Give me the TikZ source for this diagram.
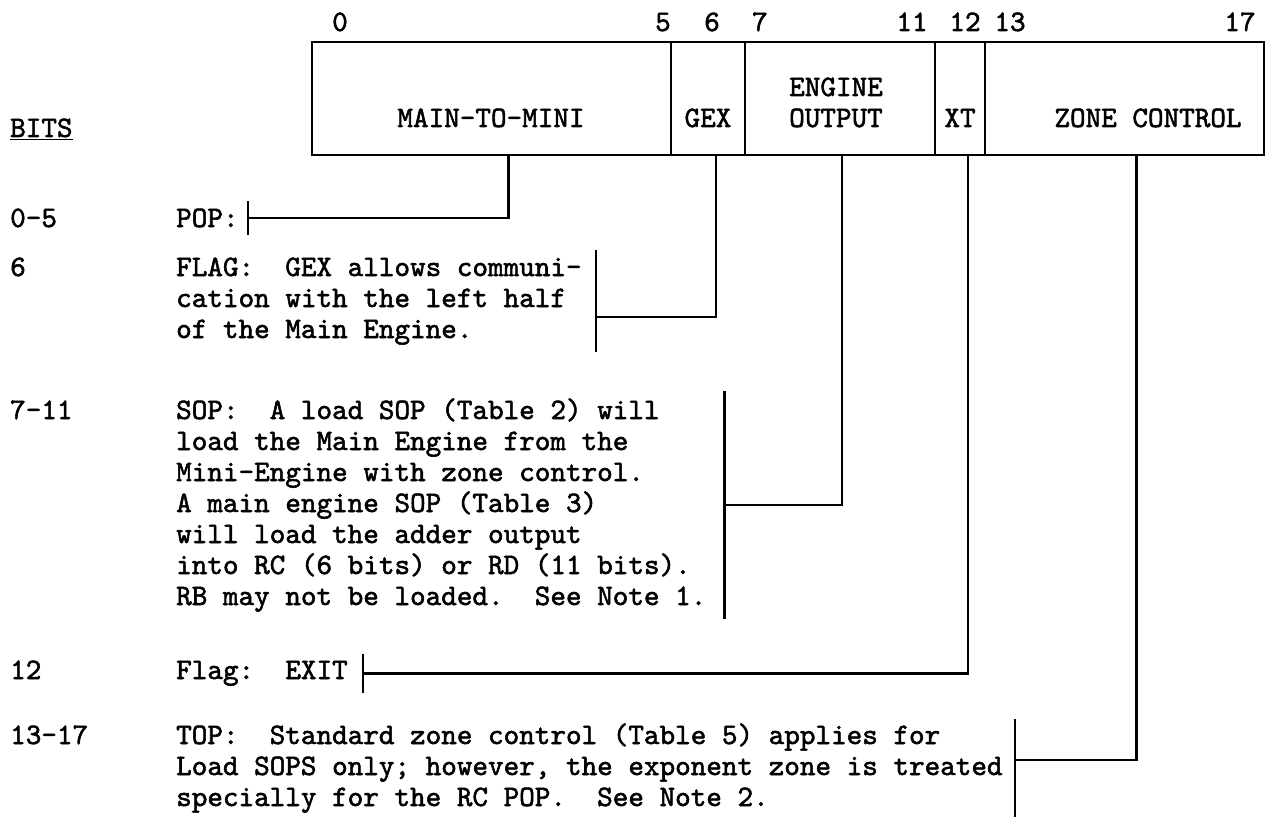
\documentclass[tikz,border=0pt]{standalone}
\usepackage{fontspec}
\setmonofont{lmmono10-regular.otf}[FakeBold=1.8]
\usetikzlibrary{positioning,calc}
\begin{document}
\frenchspacing
\begin{tikzpicture}[x=1pt,y=-1pt,
    font=\ttfamily\fontsize{29.7}{31}\selectfont,
    cell/.style={draw, line width=2.7pt, minimum height=113pt, inner sep=0pt},
    bitno/.style={anchor=base, inner sep=0pt},
    fieldlbl/.style={anchor=base, inner sep=0pt, align=center},
    rowno/.style={anchor=base west, inner sep=0pt},
    desc/.style={anchor=base west, align=left, inner xsep=0pt, inner ysep=7pt},
    lead/.style={line width=2.4pt}
  ]
  \useasboundingbox (0,0) rectangle (1272,824);

  % register fields
  \node[cell, minimum width=359pt] (mtm) at (491.5,98.5) {};
  \node[cell, minimum width=74pt] (gex) at (708,98.5) {};
  \node[cell, minimum width=190pt] (eng) at (840,98.5) {};
  \node[cell, minimum width=50pt] (xt) at (960,98.5) {};
  \node[cell, minimum width=279pt] (zone) at (1124.5,98.5) {};

  \node[fieldlbl] (mtmlbl) at (491,127) {MAIN-TO-MINI};
  \node[fieldlbl] (gexlbl) at (708,127) {GEX};
  \node[fieldlbl] (englbl) at (836,127) {ENGINE\\OUTPUT};
  \node[fieldlbl] (xtlbl) at (960,127) {XT};
  \node[fieldlbl] (zonelbl) at (1148,127) {ZONE CONTROL};

  % bit numbers
  \foreach \x/\n in {340/0, 663/5, 712/6, 760/7, 912/11, 965/12, 1010/13, 1240/17}
    \node[bitno] (b\n) at (\x,31) {\n};

  % left column
  \node[rowno] (hdr) at (10,137) {\underline{BITS}};
  \node[rowno] (r05) at (10,227) {0-5};
  \node[rowno] (r6) at (10,276) {6};
  \node[rowno] (r711) at (10,419) {7-11};
  \node[rowno] (r12) at (10,679) {12};
  \node[rowno] (r1317) at (10,744) {13-17};

  % descriptions (base = last line)
  \node[desc] (pop) at (176,227) {POP:};
  \node[desc] (flag) at (176,338) {FLAG:\ \ GEX allows communi-\\cation with the left half\\of the Main Engine.};
  \node[desc] (sop) at (176,605) {SOP:\ \ A load SOP (Table 2) will\\load the Main Engine from the\\Mini-Engine with zone control.\\A main engine SOP (Table 3)\\will load the adder output\\into RC (6 bits) or RD (11 bits).\\RB may not be loaded.\ \ See Note 1.};
  \node[desc] (exit) at (176,679) {Flag:\ \ EXIT};
  \node[desc, inner ysep=4pt] (top) at (176,806) {TOP:\ \ Standard zone control (Table 5) applies for\\Load SOPS only; however, the exponent zone is treated\\specially for the RC POP.\ \ See Note 2.};

  % bars beside the descriptions
  \foreach \t/\g in {pop/9, flag/14, sop/18, exit/15, top/12}
    \draw[lead] ($(\t.north east)+(\g,0)$) -- ($(\t.south east)+(\g,0)$);

  % leaders from the fields
  \draw[lead] ($(mtm.south)+(17,0)$) |- ($(pop.east)+(9,0)$);
  \draw[lead] ($(gex.south)+(8,0)$) |- ($(flag.east)+(14,16)$);
  \draw[lead] ($(eng.south)+(2,0)$) |- ($(sop.east)+(18,0)$);
  \draw[lead] ($(xt.south)+(8,0)$) |- ($(exit.east)+(15,0)$);
  \draw[lead] ($(zone.south)+(12,0)$) |- ($(top.east)+(12,-8)$);
\end{tikzpicture}
\end{document}
